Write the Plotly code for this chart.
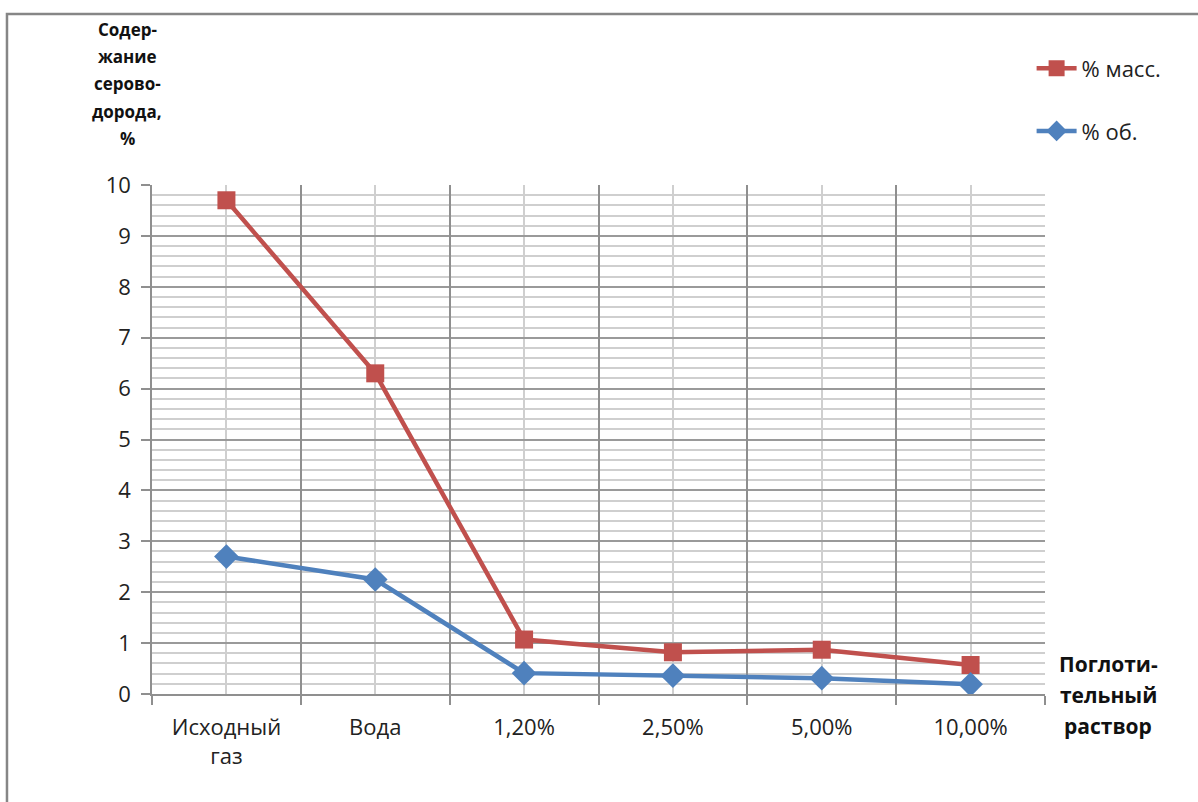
import plotly.graph_objects as go

# Absorbent solution categories and H2S content (%)
categories = ["Исходный<br>газ", "Вода", "1,20%", "2,50%", "5,00%", "10,00%"]
mass_pct = [9.7, 6.3, 1.07, 0.82, 0.87, 0.57]
vol_pct = [2.7, 2.25, 0.41, 0.36, 0.31, 0.19]
y_ticks = [0, 1, 2, 3, 4, 5, 6, 7, 8, 9, 10]
y_title_lines = ["Содер-", "жание", "серово-", "дорода,", "%"]
x_title_lines = ["Поглоти-", "тельный", "раствор"]

RED = "#C0504D"
BLUE = "#4F81BD"
FONT = "Open Sans"

xpos = list(range(len(categories)))
bounds = [i - 0.5 for i in range(len(categories) + 1)]

fig = go.Figure()

fig.add_trace(go.Scatter(
    x=xpos, y=mass_pct, name="% масс.", mode="lines+markers",
    line=dict(color=RED, width=4.5),
    marker=dict(symbol="square", size=18, color=RED),
    legendgroup="a",
))
fig.add_trace(go.Scatter(
    x=xpos, y=vol_pct, name="% об.", mode="lines+markers",
    line=dict(color=BLUE, width=4.5),
    marker=dict(symbol="diamond", size=19, color=BLUE),
    legendgroup="b",
))
# invisible trace carrying the category-boundary axis
fig.add_trace(go.Scatter(
    x=bounds, y=[None] * len(bounds), xaxis="x2", showlegend=False,
    hoverinfo="skip", mode="lines",
))

fig.update_layout(
    width=1198, height=802,
    margin=dict(l=152, r=153, t=185, b=108),
    paper_bgcolor="white", plot_bgcolor="white",
    font=dict(family=FONT, size=21, color="#222222"),
    xaxis=dict(
        range=[-0.5, 5.5], tickmode="array", tickvals=xpos, ticktext=categories,
        showgrid=True, gridcolor="#cfcfcf", gridwidth=2,
        ticks="", zeroline=False, showline=False,
        tickfont=dict(size=22, family=FONT, color="#222222"),
        ticklabelstandoff=18,
    ),
    xaxis2=dict(
        range=[-0.5, 5.5], overlaying="x", side="bottom",
        tickmode="array", tickvals=bounds, showticklabels=False,
        showgrid=True, gridcolor="#8f8f8f", gridwidth=1.5,
        ticks="outside", ticklen=9, tickcolor="#8f8f8f", tickwidth=1.5,
        showline=True, linecolor="#8f8f8f", linewidth=1.5, zeroline=False,
    ),
    yaxis=dict(
        range=[0, 10], tickmode="array", tickvals=y_ticks,
        showgrid=True, gridcolor="#9a9a9a", gridwidth=1.5,
        minor=dict(dtick=0.2, showgrid=True, gridcolor="#cfcfcf", gridwidth=2),
        ticks="outside", ticklen=9, tickcolor="#8f8f8f", tickwidth=1.5,
        showline=True, linecolor="#8f8f8f", linewidth=1.5, zeroline=False,
        tickfont=dict(size=22, family=FONT, color="#222222"),
        ticklabelstandoff=6,
    ),
    legend=dict(
        x=0.985, y=1.27, xanchor="left", yanchor="top",
        font=dict(size=22, family=FONT, color="#222222"),
        bgcolor="rgba(0,0,0,0)", tracegroupgap=31, itemwidth=40,
    ),
    showlegend=True,
)

# outer chart frame (left and top edges visible)
fig.add_shape(type="rect", xref="paper", yref="paper",
              x0=-0.1624, x1=1.3, y0=-0.5, y1=1.336,
              line=dict(color="#868686", width=2.5), layer="below")

# vertical axis title, one line per annotation
for i, line in enumerate(y_title_lines):
    fig.add_annotation(
        text=f"<b>{line}</b>", xref="paper", yref="paper",
        x=(127 - 152) / 893, y=(694 - (30 + 27 * i)) / 509,
        xanchor="center", yanchor="middle", showarrow=False,
        font=dict(size=17, family=FONT, color="#111111"),
    )

# horizontal axis title at the right end of the axis
for i, line in enumerate(x_title_lines):
    fig.add_annotation(
        text=f"<b>{line}</b>", xref="paper", yref="paper",
        x=(1108 - 152) / 893, y=(694 - (664 + 31 * i)) / 509,
        xanchor="center", yanchor="middle", showarrow=False,
        font=dict(size=21, family=FONT, color="#111111"),
    )

fig.write_html("out.html")
